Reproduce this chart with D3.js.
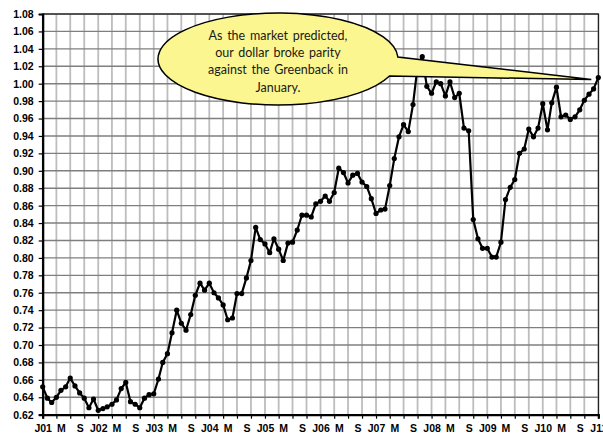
<!DOCTYPE html>
<html>
<head>
<meta charset="utf-8">
<script src="https://cdn.jsdelivr.net/npm/d3@7"></script>
<style>
  html, body { margin: 0; padding: 0; background: #fff; }
  svg { display: block; }
  .axis text { font-family: "Liberation Sans", Arial, sans-serif; font-weight: bold; font-size: 10.5px; fill: #000; }
</style>
</head>
<body>
<svg id="chart" width="603" height="434"></svg>
<script>
// Canadian dollar in US dollars, monthly, Jan 2001 – Jan 2011
const rate2001 = [0.652, 0.639, 0.634, 0.640, 0.648, 0.652, 0.662, 0.653, 0.645, 0.639, 0.628, 0.638];
const rate2002 = [0.625, 0.627, 0.629, 0.632, 0.637, 0.650, 0.657, 0.635, 0.632, 0.628, 0.639, 0.643];
const rate2003 = [0.644, 0.661, 0.680, 0.690, 0.714, 0.740, 0.725, 0.717, 0.735, 0.757, 0.771, 0.763];
const rate2004 = [0.771, 0.760, 0.754, 0.746, 0.729, 0.731, 0.759, 0.759, 0.777, 0.797, 0.835, 0.821];
const rate2005 = [0.816, 0.806, 0.822, 0.810, 0.797, 0.817, 0.818, 0.832, 0.849, 0.849, 0.847, 0.862];
const rate2006 = [0.865, 0.871, 0.865, 0.875, 0.903, 0.898, 0.886, 0.895, 0.897, 0.887, 0.882, 0.868];
const rate2007 = [0.851, 0.855, 0.856, 0.883, 0.914, 0.939, 0.953, 0.945, 0.976, 1.020, 1.031, 0.997];
const rate2008 = [0.989, 1.002, 1.000, 0.986, 1.002, 0.984, 0.989, 0.949, 0.946, 0.844, 0.822, 0.811];
const rate2009 = [0.811, 0.801, 0.801, 0.818, 0.867, 0.881, 0.890, 0.920, 0.925, 0.948, 0.939, 0.949];
const rate2010 = [0.977, 0.947, 0.978, 0.996, 0.962, 0.964, 0.959, 0.962, 0.970, 0.981, 0.988, 0.994];
const rate2011 = [1.007];

const xTickLabels = ["J01","M","S","J02","M","S","J03","M","S","J04","M","S","J05","M","S",
                     "J06","M","S","J07","M","S","J08","M","S","J09","M","S","J10","M","S","J11"];
const yTicks = d3.range(0.62, 1.0801, 0.02);

const calloutLines = ["As the market predicted,", "our dollar broke parity",
                      "against the Greenback in", "January."];

const values = [].concat(rate2001, rate2002, rate2003, rate2004, rate2005, rate2006,
                         rate2007, rate2008, rate2009, rate2010, rate2011);
const months = d3.timeMonth.range(new Date(2001, 0, 1), new Date(2011, 1, 1));
const data = months.map((d, i) => ({ date: d, value: values[i] }));

const plot = { left: 42.7, right: 598.5, top: 14, bottom: 414.7 };

const x = d3.scaleTime()
  .domain([new Date(2001, 0, 1), new Date(2011, 0, 1)])
  .range([plot.left, 598.3]);
const y = d3.scaleLinear().domain([0.62, 1.08]).range([plot.bottom, plot.top]);

const svg = d3.select("#chart");

// quarterly vertical grid
const quarterTicks = d3.timeMonth.every(3).range(new Date(2001, 0, 1), new Date(2011, 0, 2));
svg.append("g").selectAll("line").data(quarterTicks).join("line")
  .attr("x1", d => x(d)).attr("x2", d => x(d))
  .attr("y1", plot.top).attr("y2", plot.bottom)
  .attr("stroke", "#bdbdbd").attr("stroke-width", 1.8);

// horizontal grid
svg.append("g").selectAll("line").data(yTicks).join("line")
  .attr("x1", plot.left).attr("x2", plot.right)
  .attr("y1", d => y(d)).attr("y2", d => y(d))
  .attr("stroke", "#7f7f7f").attr("stroke-width", 1.4);

// plot frame
svg.append("rect")
  .attr("x", plot.left).attr("y", plot.top)
  .attr("width", plot.right - plot.left).attr("height", plot.bottom - plot.top)
  .attr("fill", "none").attr("stroke", "#222").attr("stroke-width", 1.2);

// y axis
const yAxis = svg.append("g").attr("class", "axis")
  .attr("transform", `translate(${plot.left},0)`)
  .call(d3.axisLeft(y).tickValues(yTicks).tickFormat(d3.format(".2f")).tickSize(4).tickPadding(5));
yAxis.select(".domain").attr("stroke", "#000").attr("stroke-width", 2.2);
yAxis.selectAll(".tick line").attr("stroke", "#000").attr("stroke-width", 1.2);

// x axis: quarterly tick marks, labels every four months
const xTickMarks = svg.append("g")
  .attr("transform", `translate(0,${plot.bottom})`)
  .call(d3.axisBottom(x).tickValues(quarterTicks).tickSize(4).tickFormat(""));
xTickMarks.select(".domain").attr("stroke", "#000").attr("stroke-width", 2.2);
xTickMarks.selectAll(".tick line").attr("stroke", "#000").attr("stroke-width", 1.2);

const labelDates = d3.timeMonth.every(4).range(new Date(2001, 0, 1), new Date(2011, 0, 2));
const xAxis = svg.append("g").attr("class", "axis")
  .attr("transform", `translate(0,${plot.bottom})`)
  .call(d3.axisBottom(x).tickValues(labelDates).tickSize(0).tickPadding(10)
    .tickFormat((d, i) => xTickLabels[i]));
xAxis.select(".domain").remove();

// series
const line = d3.line().x(d => x(d.date)).y(d => y(d.value));
svg.append("path").datum(data)
  .attr("d", line).attr("fill", "none")
  .attr("stroke", "#000").attr("stroke-width", 2.2).attr("stroke-linejoin", "round");
svg.append("g").selectAll("circle").data(data).join("circle")
  .attr("cx", d => x(d.date)).attr("cy", d => y(d.value)).attr("r", 2.6)
  .attr("fill", "#000");

// callout bubble pointing at the latest month
const last = data[data.length - 1];
const cx = 278, cy = 59, rx = 120, ry = 46;
const a1 = -2.5 * Math.PI / 180, a2 = 21.7 * Math.PI / 180;
const p1 = [cx + rx * Math.cos(a1), cy + ry * Math.sin(a1)];
const p2 = [cx + rx * Math.cos(a2), cy + ry * Math.sin(a2)];
const tip = [x(last.date) - 7, y(last.value) + 2];
svg.append("path")
  .attr("d", `M${tip[0]},${tip[1]} L${p1[0]},${p1[1]} A${rx},${ry} 0 1 0 ${p2[0]},${p2[1]} Z`)
  .attr("fill", "#fbf68f").attr("stroke", "#000").attr("stroke-width", 1.5)
  .attr("stroke-linejoin", "miter");

svg.append("g").selectAll("text").data(calloutLines).join("text")
  .attr("x", cx).attr("y", (d, i) => 39.5 + i * 17.4)
  .attr("text-anchor", "middle")
  .attr("font-family", "Lato, 'Open Sans', sans-serif")
  .attr("font-size", 12.5).attr("word-spacing", 1.5)
  .attr("fill", "#1a1a1a")
  .text(d => d);
</script>
</body>
</html>
